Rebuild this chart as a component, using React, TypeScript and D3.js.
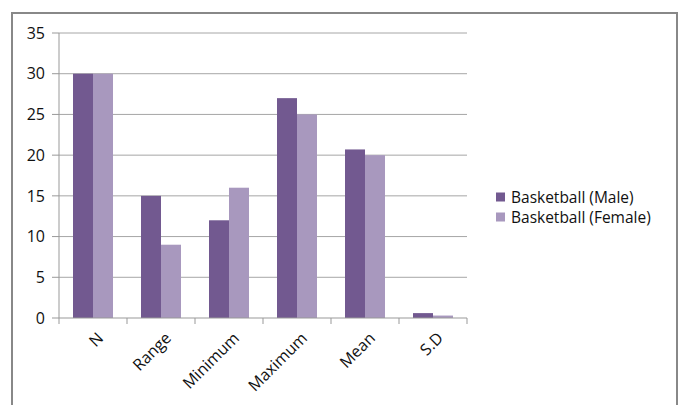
import React from "react";
import * as d3 from "d3";

const categories = ["N", "Range", "Minimum", "Maximum", "Mean", "S.D"];
const maleValues = [30, 15, 12, 27, 20.7, 0.6];
const femaleValues = [30, 9, 16, 25, 20, 0.3];
const seriesNames = ["Basketball (Male)", "Basketball (Female)"];
const yTicks = [0, 5, 10, 15, 20, 25, 30, 35];

const colors = ["#725990", "#A898BE"];
const FONT = "'Open Sans', sans-serif";

export default function App() {
  const W = 681, H = 405;
  const left = 59, right = 467, top = 33, bottom = 318;
  const x = d3.scaleBand<string>().domain(categories).range([left, right]).paddingInner(0).paddingOuter(0);
  const y = d3.scaleLinear().domain([0, 35]).range([bottom, top]);
  const series = [maleValues, femaleValues];
  const bw = x.bandwidth();
  const groupPad = bw * 0.206;
  const barW = (bw - 2 * groupPad) / 2;

  return (
    <svg width={W} height={H} style={{ position: "absolute", left: 0, top: 0, background: "#fff" }} fontFamily={FONT}>
      <rect x={12} y={13} width={665} height={420} fill="#fff" stroke="#888" strokeWidth={2} />
      {yTicks.map((t) => (
        <g key={t}>
          {t > 0 && <line x1={left} x2={right} y1={y(t)} y2={y(t)} stroke="#A6A6A6" strokeWidth={1} />}
          <line x1={left - 7} x2={left} y1={y(t)} y2={y(t)} stroke="#999" strokeWidth={1} />
          <text x={left - 14} y={y(t)} dy="0.36em" textAnchor="end" fontSize={16} fill="#111">{t}</text>
        </g>
      ))}
      {categories.map((c, i) =>
        series.map((s, j) => (
          <rect key={c + j} x={x(c)! + groupPad + j * barW} y={y(s[i])} width={barW} height={y(0) - y(s[i])} fill={colors[j]} />
        ))
      )}
      <line x1={left} x2={left} y1={top} y2={bottom} stroke="#999" strokeWidth={1} />
      <line x1={left} x2={right} y1={bottom} y2={bottom} stroke="#999" strokeWidth={1} />
      {[...categories.map((c) => x(c)!), right].map((p, i) => (
        <line key={i} x1={p} x2={p} y1={bottom} y2={bottom + 6} stroke="#999" strokeWidth={1} />
      ))}
      {categories.map((c) => {
        const cx = x(c)! + bw / 2 + 3;
        const cy = bottom + 13;
        return (
          <text key={c} transform={`translate(${cx},${cy}) rotate(-45)`} textAnchor="end" dy="0.72em" fontSize={16} fill="#111">{c}</text>
        );
      })}
      {seriesNames.map((n, j) => (
        <g key={n} transform={`translate(496,${197 + j * 20})`}>
          <rect x={0} y={-4.5} width={9} height={9} fill={colors[j]} />
          <text x={15} y={0} dy="0.36em" fontSize={15.5} fill="#111">{n}</text>
        </g>
      ))}
    </svg>
  );
}
